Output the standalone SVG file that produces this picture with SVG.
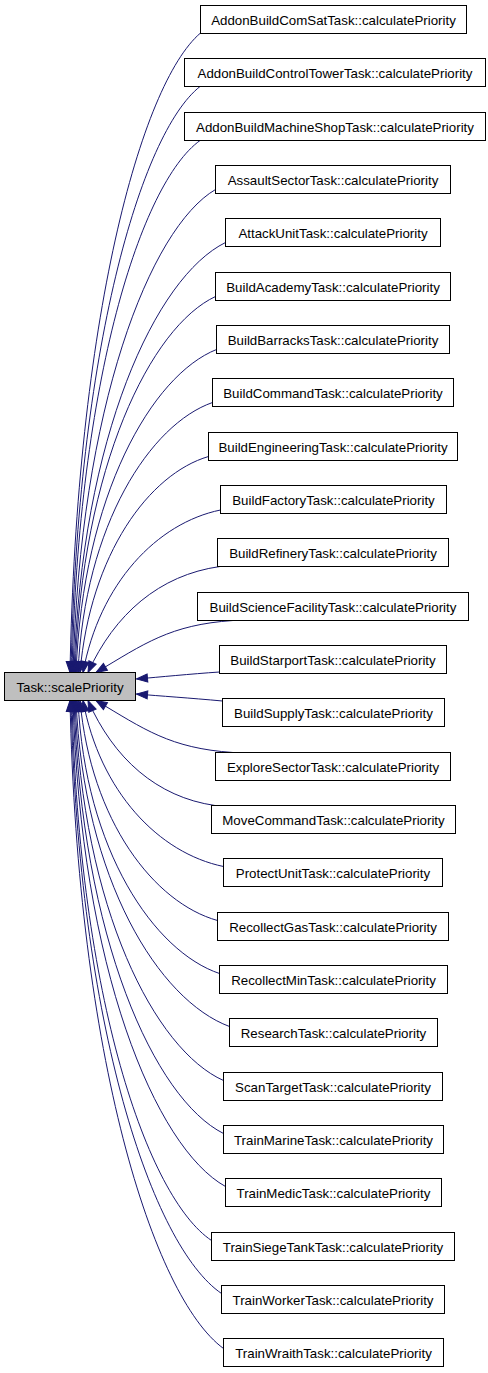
<svg xmlns="http://www.w3.org/2000/svg" width="488" height="1373" viewBox="0 0 488 1373">
<style>
.n rect{fill:#ffffff;stroke:#000000;stroke-width:1}
.c rect{fill:#bfbfbf;stroke:#000000;stroke-width:1}
text{font-family:"Liberation Sans",Arial,Helvetica,sans-serif;font-size:13.3px;fill:#000000;text-anchor:middle}
.e path{fill:none;stroke:#191970;stroke-width:1;marker-end:url(#ah)}
</style>
<defs>
<marker id="ah" markerUnits="userSpaceOnUse" viewBox="0 0 13 10" markerWidth="13" markerHeight="10" refX="12" refY="5" orient="auto">
<path d="M1,1 L12,5 L1,9 Z" fill="#191970" stroke="#191970" stroke-width="1"/>
</marker>
</defs>
<rect width="488" height="1373" fill="#ffffff"/>
<g id="connectors" class="e">
<path d="M200.5,33 C140.5,84.2 76.5,320.8 70,672.5"/>
<path d="M200,86.5 C140.7,133.4 77.5,350.2 71,672.5"/>
<path d="M200,140.5 C141.1,183.1 78.4,379.9 72,672.5"/>
<path d="M215.5,189.5 C149.9,228.1 80.1,406.9 73,672.5"/>
<path d="M225.5,242.5 C155.8,276.9 81.6,436 74,672.5"/>
<path d="M215.5,296.5 C150.9,326.6 82,465.7 75,672.5"/>
<path d="M216.5,349.5 C151.9,375.3 83,494.9 76,672.5"/>
<path d="M212.5,402.5 C150.6,424.1 84.7,524 78,672.5"/>
<path d="M208.5,456.5 C149.4,473.8 90.3,553.7 80,672.5"/>
<path d="M220.5,510 C157.2,523 99.5,583.1 83,672.5"/>
<path d="M220,566.5 C159.3,575 114.4,614.2 88,672.5"/>
<path d="M233,620.5 C170,624.7 144,643.9 96,672.5"/>
<path d="M219.5,672 C190,674 160,677 136.5,679"/>
<path d="M222.5,701 C190,698 160,696 136.5,694"/>
<path d="M233,752.5 C170,748.3 144,729.1 96,700.5"/>
<path d="M215,805.5 C156.6,797.1 113.4,758.3 88,700.5"/>
<path d="M223.5,866.5 C158.9,853.2 99.9,791.8 83,700.5"/>
<path d="M217.5,920.5 C154.3,902.9 91,821.5 80,700.5"/>
<path d="M219.5,973.5 C154.4,951.7 85.1,850.7 78,700.5"/>
<path d="M229.5,1026.5 C158.9,1000.4 83.7,879.8 76,700.5"/>
<path d="M223.5,1080.5 C155.2,1050.1 82.4,909.5 75,700.5"/>
<path d="M223.5,1133.5 C154.7,1098.9 81.5,938.7 74,700.5"/>
<path d="M225.5,1186.5 C155.4,1147.6 80.6,967.8 73,700.5"/>
<path d="M211.5,1240.5 C147.3,1197.3 79,997.5 72,700.5"/>
<path d="M221.5,1293.5 C152.3,1246.1 78.5,1026.7 71,700.5"/>
<path d="M223.5,1348.5 C152.9,1296.7 77.7,1056.9 70,700.5"/>
</g>
<g id="node-scalePriority" class="c"><rect x="4.5" y="672.5" width="131" height="28"/><text x="70" y="691.5">Task::scalePriority</text></g>
<g id="node-AddonBuildComSatTask" class="n"><rect x="200.5" y="5.5" width="266" height="28"/><text x="333.5" y="24.5">AddonBuildComSatTask::calculatePriority</text></g>
<g id="node-AddonBuildControlTowerTask" class="n"><rect x="184.5" y="58.5" width="301" height="28"/><text x="335" y="77.5">AddonBuildControlTowerTask::calculatePriority</text></g>
<g id="node-AddonBuildMachineShopTask" class="n"><rect x="184.5" y="112.5" width="301" height="28"/><text x="335" y="131.5">AddonBuildMachineShopTask::calculatePriority</text></g>
<g id="node-AssaultSectorTask" class="n"><rect x="215.5" y="165.5" width="235" height="28"/><text x="333" y="184.5">AssaultSectorTask::calculatePriority</text></g>
<g id="node-AttackUnitTask" class="n"><rect x="225.5" y="218.5" width="215" height="28"/><text x="333" y="237.5">AttackUnitTask::calculatePriority</text></g>
<g id="node-BuildAcademyTask" class="n"><rect x="215.5" y="272.5" width="235" height="28"/><text x="333" y="291.5">BuildAcademyTask::calculatePriority</text></g>
<g id="node-BuildBarracksTask" class="n"><rect x="216.5" y="325.5" width="233" height="28"/><text x="333" y="344.5">BuildBarracksTask::calculatePriority</text></g>
<g id="node-BuildCommandTask" class="n"><rect x="212.5" y="378.5" width="241" height="28"/><text x="333" y="397.5">BuildCommandTask::calculatePriority</text></g>
<g id="node-BuildEngineeringTask" class="n"><rect x="208.5" y="432.5" width="249" height="28"/><text x="333" y="451.5">BuildEngineeringTask::calculatePriority</text></g>
<g id="node-BuildFactoryTask" class="n"><rect x="220.5" y="485.5" width="226" height="28"/><text x="333.5" y="504.5">BuildFactoryTask::calculatePriority</text></g>
<g id="node-BuildRefineryTask" class="n"><rect x="217.5" y="538.5" width="231" height="28"/><text x="333" y="557.5">BuildRefineryTask::calculatePriority</text></g>
<g id="node-BuildScienceFacilityTask" class="n"><rect x="197.5" y="592.5" width="271" height="28"/><text x="333" y="611.5">BuildScienceFacilityTask::calculatePriority</text></g>
<g id="node-BuildStarportTask" class="n"><rect x="219.5" y="645.5" width="227" height="28"/><text x="333" y="664.5">BuildStarportTask::calculatePriority</text></g>
<g id="node-BuildSupplyTask" class="n"><rect x="222.5" y="698.5" width="222" height="28"/><text x="333.5" y="717.5">BuildSupplyTask::calculatePriority</text></g>
<g id="node-ExploreSectorTask" class="n"><rect x="215.5" y="752.5" width="235" height="28"/><text x="333" y="771.5">ExploreSectorTask::calculatePriority</text></g>
<g id="node-MoveCommandTask" class="n"><rect x="211.5" y="805.5" width="244" height="28"/><text x="333.5" y="824.5">MoveCommandTask::calculatePriority</text></g>
<g id="node-ProtectUnitTask" class="n"><rect x="223.5" y="858.5" width="219" height="28"/><text x="333" y="877.5">ProtectUnitTask::calculatePriority</text></g>
<g id="node-RecollectGasTask" class="n"><rect x="217.5" y="912.5" width="231" height="28"/><text x="333" y="931.5">RecollectGasTask::calculatePriority</text></g>
<g id="node-RecollectMinTask" class="n"><rect x="219.5" y="965.5" width="228" height="28"/><text x="333.5" y="984.5">RecollectMinTask::calculatePriority</text></g>
<g id="node-ResearchTask" class="n"><rect x="229.5" y="1018.5" width="208" height="28"/><text x="333.5" y="1037.5">ResearchTask::calculatePriority</text></g>
<g id="node-ScanTargetTask" class="n"><rect x="223.5" y="1072.5" width="219" height="28"/><text x="333" y="1091.5">ScanTargetTask::calculatePriority</text></g>
<g id="node-TrainMarineTask" class="n"><rect x="223.5" y="1125.5" width="220" height="28"/><text x="333.5" y="1144.5">TrainMarineTask::calculatePriority</text></g>
<g id="node-TrainMedicTask" class="n"><rect x="225.5" y="1178.5" width="216" height="28"/><text x="333.5" y="1197.5">TrainMedicTask::calculatePriority</text></g>
<g id="node-TrainSiegeTankTask" class="n"><rect x="211.5" y="1232.5" width="243" height="28"/><text x="333" y="1251.5">TrainSiegeTankTask::calculatePriority</text></g>
<g id="node-TrainWorkerTask" class="n"><rect x="221.5" y="1285.5" width="223" height="28"/><text x="333" y="1304.5">TrainWorkerTask::calculatePriority</text></g>
<g id="node-TrainWraithTask" class="n"><rect x="223.5" y="1338.5" width="220" height="28"/><text x="333.5" y="1357.5">TrainWraithTask::calculatePriority</text></g>
</svg>
